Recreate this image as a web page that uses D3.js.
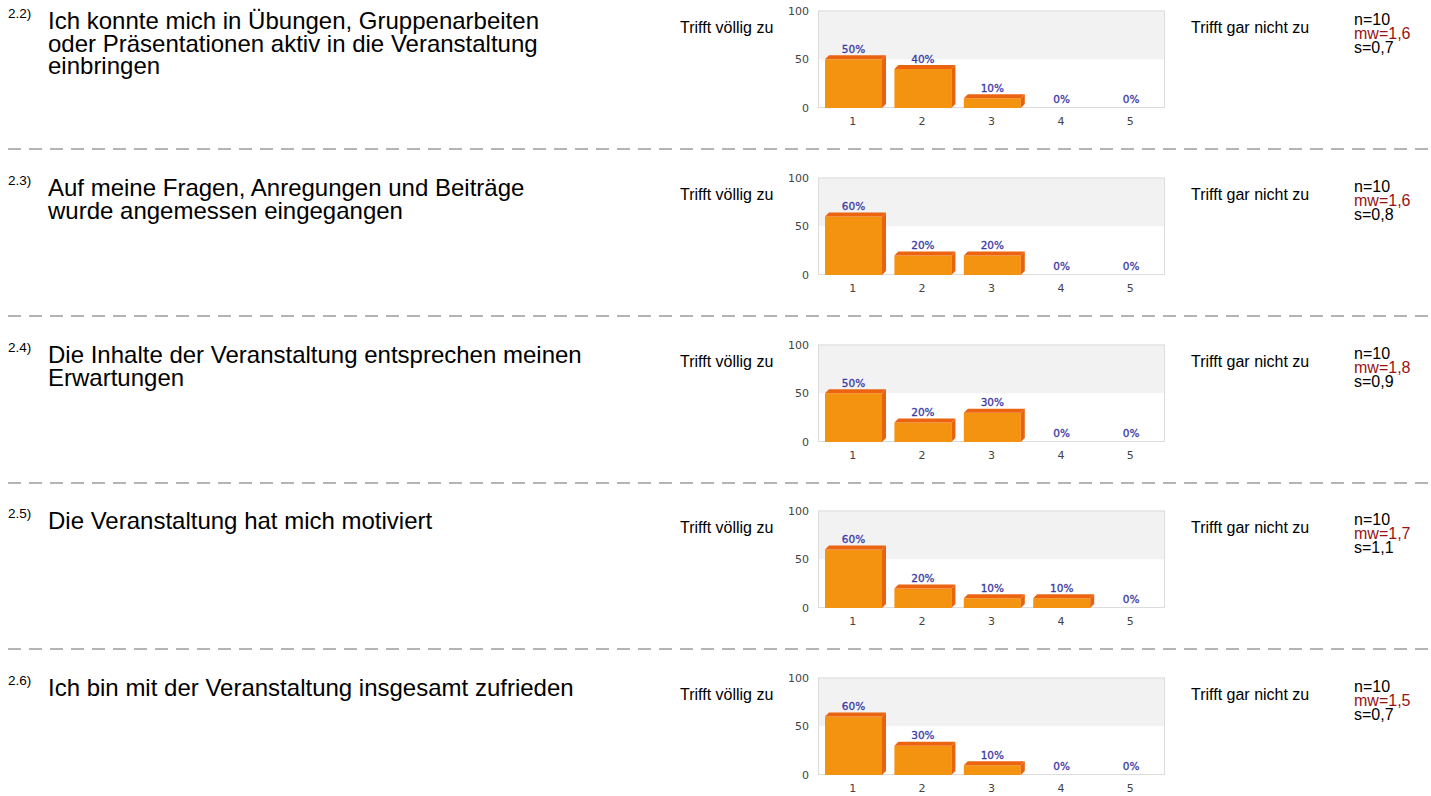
<!DOCTYPE html>
<html><head><meta charset="utf-8">
<script src="https://cdn.jsdelivr.net/npm/d3@7/dist/d3.min.js"></script>
<style>body{margin:0;background:#fff;}svg{display:block;}</style>
</head><body>
<script>
const numbers = ["2.2)", "2.3)", "2.4)", "2.5)", "2.6)"];
const questions = [
  ["Ich konnte mich in Übungen, Gruppenarbeiten", "oder Präsentationen aktiv in die Veranstaltung", "einbringen"],
  ["Auf meine Fragen, Anregungen und Beiträge", "wurde angemessen eingegangen"],
  ["Die Inhalte der Veranstaltung entsprechen meinen", "Erwartungen"],
  ["Die Veranstaltung hat mich motiviert"],
  ["Ich bin mit der Veranstaltung insgesamt zufrieden"]
];
const categories = ["1", "2", "3", "4", "5"];
const values = [
  [50, 40, 10, 0, 0],
  [60, 20, 20, 0, 0],
  [50, 20, 30, 0, 0],
  [60, 20, 10, 10, 0],
  [60, 30, 10, 0, 0]
];
const nValues = ["n=10", "n=10", "n=10", "n=10", "n=10"];
const mwValues = ["mw=1,6", "mw=1,6", "mw=1,8", "mw=1,7", "mw=1,5"];
const sValues = ["s=0,7", "s=0,8", "s=0,9", "s=1,1", "s=0,7"];
const yTicks = [0, 50, 100];
const leftLabel = "Trifft völlig zu";
const rightLabel = "Trifft gar nicht zu";

const W = 1431, H = 796;
const svg = d3.select("body").append("svg").attr("width", W).attr("height", H);
const panelH = 166.75;
const SANS = "'Liberation Sans', Arial, sans-serif";
const DJ = "'DejaVu Sans', Verdana, sans-serif";

const x = d3.scaleBand().domain(categories).range([818, 1165]).paddingInner(0).paddingOuter(0);
const y = d3.scaleLinear().domain([0, 100]).range([108, 10.5]);
const depth = 4;

questions.forEach((q, i) => {
  const oy = Math.round(i * panelH);
  const g = svg.append("g").attr("transform", `translate(0,${oy})`);

  g.append("text").attr("x", 8).attr("y", 18).attr("font-family", SANS)
    .attr("font-size", 13.5).attr("fill", "#000").text(numbers[i]);
  g.selectAll("text.q").data(q).join("text").attr("class", "q")
    .attr("x", 48).attr("y", (d, j) => 29 + j * 22.5)
    .attr("font-family", SANS).attr("font-size", 24).attr("fill", "#000")
    .text(d => d);

  g.append("text").attr("x", 680).attr("y", 33).attr("font-family", SANS)
    .attr("font-size", 16).attr("fill", "#000").text(leftLabel);
  g.append("text").attr("x", 1191).attr("y", 33).attr("font-family", SANS)
    .attr("font-size", 16).attr("fill", "#000").text(rightLabel);
  const st = g.append("g").attr("font-family", SANS).attr("font-size", 16);
  st.append("text").attr("x", 1354).attr("y", 25).attr("fill", "#000").text(nValues[i]);
  st.append("text").attr("x", 1354).attr("y", 39).attr("fill", "#9b1212").text(mwValues[i]);
  st.append("text").attr("x", 1354).attr("y", 53).attr("fill", "#000").text(sValues[i]);

  g.append("rect").attr("x", x.range()[0]).attr("y", y(100)).attr("width", x.range()[1] - x.range()[0])
    .attr("height", y(50) - y(100)).attr("fill", "#f2f2f2");
  g.append("rect").attr("x", x.range()[0] + 0.5).attr("y", y(100) + 0.5).attr("width", x.range()[1] - x.range()[0] - 1)
    .attr("height", y(0) - y(100) - 1).attr("fill", "none").attr("stroke", "#dcdcdc").attr("stroke-width", 1);

  const ya = d3.axisLeft(y).tickValues(yTicks).tickSize(0).tickPadding(9);
  const yg = g.append("g").attr("transform", `translate(${x.range()[0]},0)`).call(ya);
  yg.select(".domain").remove();
  yg.selectAll("text").attr("font-family", DJ).attr("font-size", 11).attr("fill", "#444");

  const xa = d3.axisBottom(x).tickSize(0).tickPadding(9);
  const xg = g.append("g").attr("transform", `translate(0,${y(0)})`).call(xa);
  xg.select(".domain").remove();
  xg.selectAll("text").attr("font-family", DJ).attr("font-size", 11).attr("fill", "#444");

  const data = categories.map((c, k) => ({c, v: values[i][k]}));
  const off = 7, fw = 57;
  const bars = g.selectAll("g.bar").data(data).join("g").attr("class", "bar");
  bars.filter(d => d.v > 0).each(function(d) {
    const b = d3.select(this);
    const x0 = x(d.c) + off, x1 = x0 + fw, yt = y(d.v), yb = y(0);
    b.append("rect").attr("x", x0).attr("y", yt).attr("width", fw).attr("height", yb - yt).attr("fill", "#f3930f");
    b.append("path").attr("d", `M${x1},${yt}L${x1 + depth},${yt - depth}L${x1 + depth},${yb - depth}L${x1},${yb}Z`).attr("fill", "#e8620f");
    b.append("path").attr("d", `M${x0},${yt}L${x0 + depth},${yt - depth}L${x1 + depth},${yt - depth}L${x1},${yt}Z`).attr("fill", "#ec6310");
  });
  bars.append("text").attr("x", d => x(d.c) + off + fw / 2).attr("y", d => y(d.v) - (d.v > 0 ? depth + 2.5 : 5))
    .attr("text-anchor", "middle").attr("font-family", DJ).attr("font-size", 10.5)
    .attr("fill", "#3a3aa6").attr("stroke", "#3a3aa6").attr("stroke-width", 0.3).text(d => d.v + "%");

  if (i < questions.length - 1) {
    g.append("line").attr("x1", 8).attr("x2", W).attr("y1", 149).attr("y2", 149)
      .attr("stroke", "#b4b4b4").attr("stroke-width", 2).attr("stroke-dasharray", "13,8");
  }
});
</script>
</body></html>
